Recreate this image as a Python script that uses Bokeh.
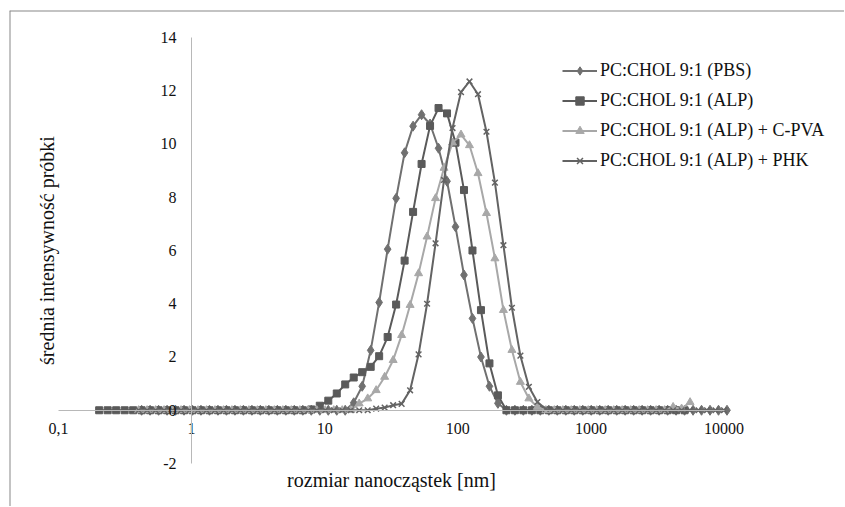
from bokeh.plotting import figure
from bokeh.models import (FixedTicker, CustomJSTickFormatter, Legend, LegendItem, Span)
from bokeh.embed import file_html
from bokeh.resources import INLINE

# ---- data -------------------------------------------------------------
# size classes [nm] (log-spaced DLS bins), grid A (PBS, ALP) and grid B (C-PVA, PHK)
sizes_a = [0.2021, 0.2341, 0.2712, 0.3141, 0.3638,
           0.4212, 0.4877, 0.5649, 0.6542, 0.7576, 0.8774, 1.016, 1.176, 1.363, 1.578,
           1.828, 2.117, 2.451, 2.839, 3.287, 3.807, 4.409, 5.106, 5.913, 6.848,
           7.930, 9.183, 10.64, 12.32, 14.26, 16.52, 19.13, 22.16, 25.65, 29.71,
           34.40, 39.85, 46.14, 53.44, 61.88, 71.67, 83.00, 96.12, 111.3, 128.9,
           149.3, 172.9, 200.2, 231.9, 268.5, 310.9, 360.1, 417.1, 483.0, 559.3,
           647.7, 750.2, 868.7, 1006, 1165, 1349, 1563, 1809, 2095, 2427,
           2810, 3255, 3770, 4365, 5055, 5855, 6780, 7851, 9093, 10530]
sizes_b = [0.4, 0.4632, 0.5365, 0.6213, 0.7195, 0.8332, 0.9649, 1.117, 1.294, 1.499,
           1.736, 2.010, 2.328, 2.696, 3.122, 3.615, 4.187, 4.849, 5.615, 6.503,
           7.531, 8.721, 10.10, 11.70, 13.54, 15.69, 18.17, 21.04, 24.36, 28.21,
           32.67, 37.84, 43.82, 50.75, 58.77, 68.06, 78.82, 91.28, 105.7, 122.4,
           141.8, 164.2, 190.1, 220.2, 255.0, 295.3, 342.0, 396.1, 458.7, 531.2,
           615.1, 712.4, 825.0, 955.4, 1106, 1281, 1484, 1718, 1990, 2305,
           2669, 3091, 3580, 4145, 4801, 5560, 6439, 7456, 8635, 10000]

x_pbs = sizes_a[5:75]
x_alp = sizes_a[0:70]
x_cpva = sizes_b[0:66]
x_phk = sizes_b[0:70]

y_pbs = [0, 0, 0, 0, 0, 0, 0, 0, 0, 0,
         0, 0, 0, 0, 0, 0, 0, 0, 0, 0,
         0, 0, 0, 0, 0, 0.28, 0.9, 2.25, 4.05, 6.05,
         7.96, 9.67, 10.67, 11.1, 10.75, 9.84, 8.6, 6.89, 5.08, 3.45,
         2.0, 0.9, 0.26, 0, 0, 0, 0, 0, 0, 0,
         0, 0, 0, 0, 0, 0, 0, 0, 0, 0,
         0, 0, 0, 0, 0, 0, 0, 0, 0, 0]
y_alp = [0, 0, 0, 0, 0, 0, 0, 0, 0, 0,
         0, 0, 0, 0, 0, 0, 0, 0, 0, 0,
         0, 0, 0, 0, 0, 0.03, 0.17, 0.36, 0.63, 0.97,
         1.23, 1.43, 1.63, 2.03, 2.75, 3.97, 5.62, 7.45, 9.25, 10.68,
         11.35, 11.15, 10.05, 8.27, 6.0, 3.76, 1.76, 0.56, 0, 0,
         0, 0, 0, 0, 0, 0, 0, 0, 0, 0,
         0, 0, 0, 0, 0, 0, 0, 0, 0, 0]
y_cpva = [0, 0, 0, 0, 0, 0, 0, 0, 0, 0,
          0, 0, 0, 0, 0, 0, 0, 0, 0, 0,
          0, 0, 0, 0, 0, 0, 0.25, 0.44, 0.75, 1.25,
          1.88, 2.82, 3.95, 5.14, 6.52, 7.96, 9.1, 10.05, 10.35, 9.95,
          8.9, 7.4, 5.7, 3.76, 2.26, 1.06, 0.44, 0.12, 0, 0,
          0, 0, 0, 0, 0, 0, 0, 0, 0, 0,
          0, 0, 0, 0.12, 0.06, 0.3]
y_phk = [0, 0, 0, 0, 0, 0, 0, 0, 0, 0,
         0, 0, 0, 0, 0, 0, 0, 0, 0, 0,
         0, 0, 0, 0, 0, 0, 0, 0, 0.06, 0.1,
         0.19, 0.24, 0.75, 2.1, 4.0, 6.27, 8.65, 10.6, 11.95, 12.35,
         11.87, 10.46, 8.55, 6.2, 3.85, 2.05, 0.88, 0.31, 0.05, 0,
         0, 0, 0, 0, 0, 0, 0, 0, 0, 0,
         0, 0, 0, 0, 0, 0, 0, 0, 0, 0]

labels = ["PC:CHOL 9:1 (PBS)", "PC:CHOL 9:1 (ALP)",
          "PC:CHOL 9:1 (ALP) + C-PVA", "PC:CHOL 9:1 (ALP) + PHK"]
x_ticks = [0.1, 1, 10, 100, 1000, 10000]
y_ticks = [-2, 0, 2, 4, 6, 8, 10, 12, 14]
x_title = "rozmiar nanocząstek [nm]"
y_title = "średnia intensywność próbki"

# ---- figure -----------------------------------------------------------
FONT = "Liberation Serif"
x_start, x_end = 10 ** -1.3681, 10 ** 4.9053
y_start, y_end = -3.615, 15.014

p = figure(width=844, height=506, x_axis_type="log",
           x_range=(x_start, x_end), y_range=(y_start, y_end),
           output_backend="svg", toolbar_location=None,
           min_border=0, min_border_left=9, min_border_top=10,
           outline_line_color=None, background_fill_color="white",
           border_fill_color="white")
p.grid.visible = False

# chart border (left & top visible, the rest lies outside the picture)
p.add_layout(Span(location=x_start, dimension="height", line_color="#878787", line_width=2))
p.add_layout(Span(location=y_end, dimension="width", line_color="#878787", line_width=2))

# axes crossing inside the plot
xa = p.xaxis[0]
ya = p.yaxis[0]
xa.fixed_location = 0
ya.fixed_location = 1
xa.bounds = (x_ticks[0], x_ticks[-1])
ya.bounds = (y_ticks[0], y_ticks[-1])
xa.ticker = FixedTicker(ticks=x_ticks)
ya.ticker = FixedTicker(ticks=y_ticks)
xa.formatter = CustomJSTickFormatter(code="return String(tick).replace('.', ',');")
ya.formatter = CustomJSTickFormatter(code="return String(tick);")
for ax in (xa, ya):
    ax.axis_line_color = "#b8b8b8"
    ax.axis_line_width = 1
    ax.major_tick_line_color = None
    ax.minor_tick_line_color = None
    ax.major_label_text_font = FONT
    ax.major_label_text_font_size = "16px"
    ax.major_label_text_color = "#111111"
    ax.axis_label_text_font = FONT
    ax.axis_label_text_font_size = "20px"
    ax.axis_label_text_font_style = "normal"
    ax.axis_label_text_color = "#111111"
xa.major_label_standoff = 7
ya.major_label_standoff = 9
xa.axis_label = x_title
ya.axis_label = y_title
xa.axis_label_standoff = 31
ya.axis_label_standoff = 100

# ---- series -----------------------------------------------------------
series = [
    (x_pbs, y_pbs, "#707070", "diamond", 10),
    (x_alp, y_alp, "#5a5a5a", "square", 7),
    (x_cpva, y_cpva, "#a8a8a8", "triangle", 8),
    (x_phk, y_phk, "#636363", "x", 8),
]
items = []
for (xs, ys, col, mk, sz), lab in zip(series, labels):
    ln = p.line(xs, ys, line_color=col, line_width=2)
    if mk == "x":
        sc = p.scatter(xs, ys, marker=mk, size=sz, line_color=col, line_width=1.5)
    else:
        sc = p.scatter(xs, ys, marker=mk, size=sz, fill_color=col, line_color=col)
    items.append(LegendItem(label=lab, renderers=[ln, sc]))

legend = Legend(items=items, location=(553, 335),
                label_text_font=FONT, label_text_font_size="18px",
                label_text_color="#111111",
                glyph_width=35, glyph_height=21, label_height=21,
                spacing=9, padding=0, margin=0, label_standoff=3,
                border_line_color=None, background_fill_alpha=0)
p.add_layout(legend)

open("out.html", "w").write(file_html(p, INLINE))
